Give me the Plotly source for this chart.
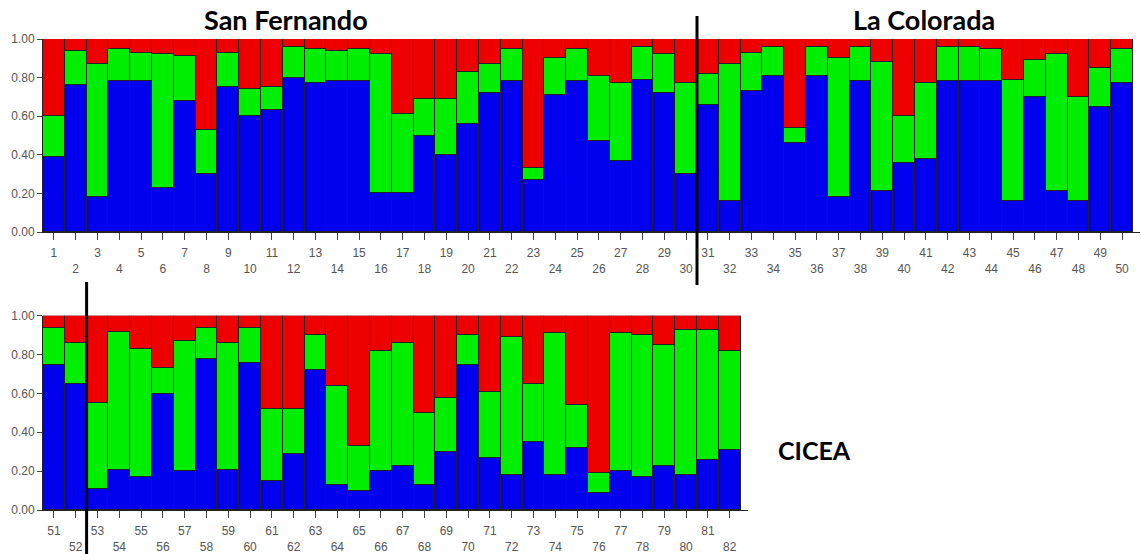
import plotly.graph_objects as go

# ---- data ----
ids_top = list(range(1, 51))
blue_top = [0.39, 0.76, 0.18, 0.78, 0.78, 0.23, 0.68, 0.30, 0.75, 0.60,
            0.63, 0.80, 0.77, 0.78, 0.78, 0.20, 0.20, 0.50, 0.40, 0.56,
            0.72, 0.78, 0.27, 0.71, 0.78, 0.47, 0.37, 0.79, 0.72, 0.30,
            0.66, 0.16, 0.73, 0.81, 0.46, 0.81, 0.18, 0.78, 0.21, 0.36,
            0.38, 0.78, 0.78, 0.78, 0.16, 0.70, 0.21, 0.16, 0.65, 0.77]
green_top = [0.21, 0.18, 0.69, 0.17, 0.15, 0.69, 0.23, 0.23, 0.18, 0.14,
             0.12, 0.16, 0.18, 0.16, 0.17, 0.72, 0.41, 0.19, 0.29, 0.27,
             0.15, 0.17, 0.06, 0.19, 0.17, 0.34, 0.40, 0.17, 0.20, 0.47,
             0.16, 0.71, 0.20, 0.15, 0.08, 0.15, 0.72, 0.18, 0.67, 0.24,
             0.39, 0.18, 0.18, 0.17, 0.63, 0.19, 0.71, 0.54, 0.20, 0.18]
red_top = [0.40, 0.06, 0.13, 0.05, 0.07, 0.08, 0.09, 0.47, 0.07, 0.26,
           0.25, 0.04, 0.05, 0.06, 0.05, 0.08, 0.39, 0.31, 0.31, 0.17,
           0.13, 0.05, 0.67, 0.10, 0.05, 0.19, 0.23, 0.04, 0.08, 0.23,
           0.18, 0.13, 0.07, 0.04, 0.46, 0.04, 0.10, 0.04, 0.12, 0.40,
           0.23, 0.04, 0.04, 0.05, 0.21, 0.11, 0.08, 0.30, 0.15, 0.05]

ids_bot = list(range(51, 83))
blue_bot = [0.75, 0.65, 0.11, 0.21, 0.17, 0.60, 0.20, 0.78, 0.21, 0.76,
            0.15, 0.29, 0.72, 0.13, 0.10, 0.20, 0.23, 0.13, 0.30, 0.75,
            0.27, 0.18, 0.35, 0.18, 0.32, 0.09, 0.20, 0.17, 0.23, 0.18,
            0.26, 0.31]
green_bot = [0.19, 0.21, 0.44, 0.71, 0.66, 0.13, 0.67, 0.16, 0.65, 0.18,
             0.37, 0.23, 0.18, 0.51, 0.23, 0.62, 0.63, 0.37, 0.28, 0.15,
             0.34, 0.71, 0.30, 0.73, 0.22, 0.10, 0.71, 0.73, 0.62, 0.75,
             0.67, 0.51]
red_bot = [0.06, 0.14, 0.45, 0.08, 0.17, 0.27, 0.13, 0.06, 0.14, 0.06,
           0.48, 0.48, 0.10, 0.36, 0.67, 0.18, 0.14, 0.50, 0.42, 0.10,
           0.39, 0.11, 0.35, 0.09, 0.46, 0.81, 0.09, 0.10, 0.15, 0.07,
           0.07, 0.18]

y_ticks = [0, 0.2, 0.4, 0.6, 0.8, 1.0]
y_ticktext = ["0.00", "0.20", "0.40", "0.60", "0.80", "1.00"]
group_labels = ["San Fernando", "La Colorada", "CICEA"]

# ---- style ----
C_BLUE, C_GREEN, C_RED = "#0000ee", "#00ee00", "#ee0000"
EDGE = "#222222"
TICK_FONT = dict(family="Liberation Sans Narrow, Liberation Sans, Arial, sans-serif",
                 size=12, color="#555555")

fig = go.Figure()
for ids, b, g, r, xa, ya in [(ids_top, blue_top, green_top, red_top, "x", "y"),
                              (ids_bot, blue_bot, green_bot, red_bot, "x2", "y2")]:
    for vals, col in [(b, C_BLUE), (g, C_GREEN), (r, C_RED)]:
        fig.add_trace(go.Bar(x=ids, y=vals, marker=dict(color=col, line=dict(color=EDGE, width=1)),
                             xaxis=xa, yaxis=ya, showlegend=False, hoverinfo="skip"))

def xtext(ids):
    return [str(i) if i % 2 == 1 else "<br>" + str(i) for i in ids]

W, H = 1141, 554
L, R = 43, 1
plot_w = W - L - R
px_per_bar = 21.8
d_bot = (748 - L) / plot_w

common_x = dict(showline=True, linecolor=EDGE, linewidth=1, ticks="outside", ticklen=7,
                tickcolor="#444444", tickfont=TICK_FONT, showgrid=False, zeroline=False,
                fixedrange=True, automargin=False, ticklabelstandoff=3)
common_y = dict(range=[0, 1], tickvals=y_ticks, ticktext=y_ticktext, showline=True,
                linecolor=EDGE, linewidth=1, ticks="outside", ticklen=5, tickcolor="#444444",
                tickfont=TICK_FONT, showgrid=False, zeroline=False, fixedrange=True,
                automargin=False)

fig.update_layout(
    template="none",
    width=W, height=H, autosize=False,
    margin=dict(l=L, r=R, t=0, b=0, pad=0),
    barmode="stack", bargap=0,
    paper_bgcolor="white", plot_bgcolor="white",
    xaxis=dict(domain=[0, 1], range=[0.5, 0.5 + plot_w / px_per_bar], anchor="y",
               tickvals=ids_top, ticktext=xtext(ids_top), **common_x),
    yaxis=dict(domain=[(H - 232) / H, (H - 39) / H], anchor="x", **common_y),
    xaxis2=dict(domain=[0, d_bot], range=[50.5, 50.5 + d_bot * plot_w / px_per_bar], anchor="y2",
                tickvals=ids_bot, ticktext=xtext(ids_bot), **common_x),
    yaxis2=dict(domain=[(H - 510) / H, (H - 315.7) / H], anchor="x2", **common_y),
)

title_font = dict(family="Lato, Open Sans, sans-serif", size=27, color="black")
for text, xp, yp in [(group_labels[0], 286, 19), (group_labels[1], 924, 20), (group_labels[2], 815, 450)]:
    fig.add_annotation(text="<b>%s</b>" % text, xref="paper", yref="paper",
                       x=(xp - L) / plot_w, y=(H - yp) / H, showarrow=False,
                       xanchor="center", yanchor="middle",
                       font=title_font if text != "CICEA" else dict(title_font, size=25))

# group separators
fig.add_shape(type="line", xref="x", yref="paper", x0=30.5, x1=30.5,
              y0=(H - 285) / H, y1=(H - 16) / H, line=dict(color="black", width=3))
fig.add_shape(type="line", xref="x2", yref="paper", x0=52.5, x1=52.5,
              y0=-0.01, y1=(H - 282) / H, line=dict(color="black", width=3))

fig.write_html("out.html", config={"displayModeBar": False},
               post_script="document.body.style.margin='0';document.body.style.overflow='hidden';")
